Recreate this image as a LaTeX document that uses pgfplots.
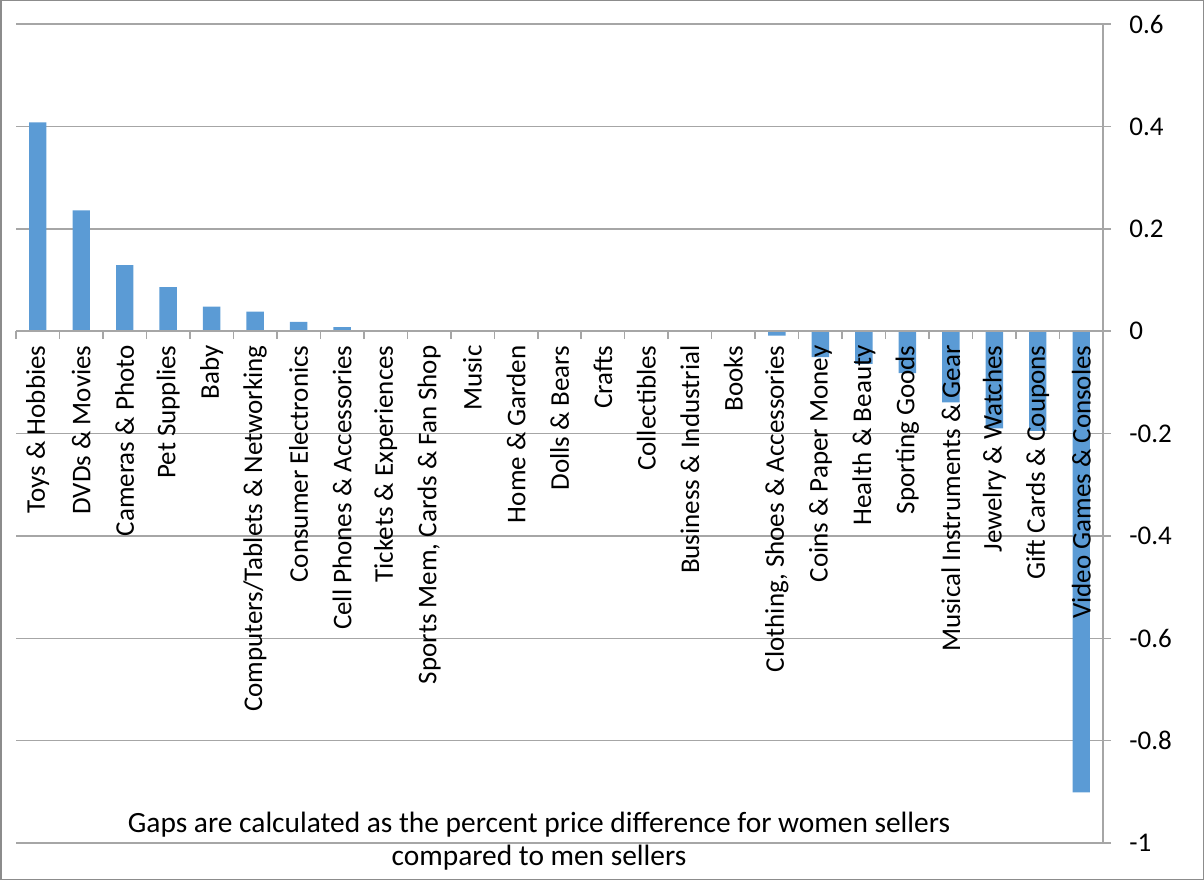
\documentclass[border=0pt]{standalone}
\usepackage{fontspec}
\setmainfont{Carlito}
\usepackage{pgfplots}
\pgfplotsset{compat=1.18}
\definecolor{barblue}{HTML}{5B9BD5}
\definecolor{gridgray}{HTML}{A6A6A6}
\definecolor{framegray}{HTML}{8C8C8C}

\begin{document}
\begin{tikzpicture}
\begin{axis}[
  set layers,
  at={(8pt,18.5pt)}, anchor=south west,
  scale only axis, width=543.5pt, height=409.5pt,
  xmin=-0.5, xmax=24.5, ymin=-1, ymax=0.6,
  axis x line*=middle, axis y line*=right,
  axis line style={gridgray, line width=0.75pt},
  ymajorgrids, grid style={gridgray, line width=0.75pt},
  ytick={-1,-0.8,...,0.6},
  tick align=outside, major tick length=4pt,
  tick style={gridgray, line width=0.75pt},
  xtick={-0.5,0.5,...,24.5}, xticklabels={},
  extra x ticks={0,1,...,24},
  extra x tick style={tick style={draw=none}},
  extra x tick labels={Toys \& Hobbies, DVDs \& Movies, Cameras \& Photo, Pet Supplies, Baby,
    Computers/Tablets \& Networking, Consumer Electronics, Cell Phones \& Accessories,
    Tickets \& Experiences, {Sports Mem, Cards \& Fan Shop}, Music, Home \& Garden,
    Dolls \& Bears, Crafts, Collectibles, Business \& Industrial, Books,
    {Clothing, Shoes \& Accessories}, Coins \& Paper Money, Health \& Beauty,
    Sporting Goods, Musical Instruments \& Gear, Jewelry \& Watches,
    Gift Cards \& Coupons, Video Games \& Consoles},
  % rotated: xshift moves the names down the page
  x tick label style={rotate=90, anchor=east, xshift=-3pt, inner sep=0pt,
    font=\fontsize{13.5}{16}\selectfont},
  y tick label style={anchor=west, xshift=9pt, inner sep=0pt,
    font=\fontsize{13.5}{16}\selectfont},
  /pgf/number format/assume math mode=true,
]
% bars sit on the grid layer so that the category names are drawn over them
\addplot[ybar, bar width=0.4, fill=barblue, draw=none, on layer=axis grid] coordinates {
  (0,0.408) (1,0.236) (2,0.129) (3,0.086) (4,0.048) (5,0.038) (6,0.018) (7,0.008)
  (8,0) (9,0) (10,0) (11,0) (12,0) (13,0) (14,0) (15,0) (16,0)
  (17,-0.009) (18,-0.051) (19,-0.064) (20,-0.082) (21,-0.139) (22,-0.19)
  (23,-0.195) (24,-0.901)
};
\end{axis}
\node[align=center, font=\fontsize{14.7}{16.5}\selectfont] at (269.5pt,19.25pt)
  {Gaps are calculated as the percent price difference for women sellers\\compared to men sellers};
\draw[framegray, line width=0.75pt] (0.375pt,0.375pt) rectangle (601.625pt,439.625pt);
\pgfresetboundingbox
\path (0,0) rectangle (602pt,440pt);
\end{tikzpicture}
\end{document}
